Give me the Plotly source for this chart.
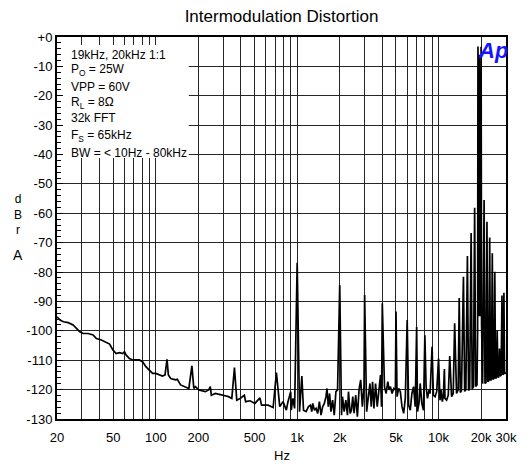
import math
import plotly.graph_objects as go

# ---------------- data ----------------
freq_hz = [
    20, 21.0, 22.2, 24.0, 26.0, 27.5, 29.0, 30.6, 33.2, 36.0, 38.0, 41.2, 44.6, 47.1,
    49.7, 52.4, 55.3, 58.4, 60.0, 61.6, 65.0, 68.6, 76.4, 80.6, 85.1, 89.8, 94.8, 100,
    105.5, 111.4, 116.2, 120, 122.7, 127.4, 138.1, 141.9, 149.7, 162.3, 171.3, 180,
    185.7, 190.8, 201.3, 224.2, 236.6, 243, 247, 263.6, 293.4, 326.9, 344.8, 360,
    373.8, 394.5, 423, 432, 463.7, 502.5, 545, 559.8, 623.4, 675.9, 713,
    753, 794, 838, 861, 884, 900, 908, 933, 959, 1000,
    1039, 1079, 1109, 1157, 1202, 1241, 1268, 1289, 1324, 1360, 1397, 1436, 1475,
    1515, 1556, 1599, 1625, 1660, 1696, 1733, 1780, 1829, 1879, 1930, 2000,
    2059, 2092, 2150, 2208, 2268, 2306, 2369, 2420, 2473, 2526, 2595, 2666, 2739,
    2814, 2891, 2970, 3000,
    3100, 3184, 3271, 3342, 3415, 3490, 3585, 3683, 3784, 3887, 3950, 4000,
    4146, 4258, 4376, 4470, 4568, 4692, 4820, 4952, 5000,
    5087, 5224, 5368, 5514, 5665, 5820, 6000,
    6141, 6308, 6480, 6658, 6840, 7000,
    7102, 7296, 7414, 7617, 7825, 8000,
    8166, 8346, 8570, 8712, 9000,
    9193, 9444, 9702, 10000,
    10240, 10406, 10634, 10806, 11000,
    11102, 11404, 11716, 12000,
    12362, 12700, 13000,
    13404, 13770, 14000,
    14250, 14532, 15000,
    15300, 15600, 16000,
    16300, 16600, 17000,
    17300, 17650, 18000,
    18300, 18700, 18900, 19000, 19200, 19400, 19600, 19800, 20000, 20150,
    20500, 21000, 21300, 21650, 22000, 22300, 22650, 23000,
    23300, 23650, 24000, 24300, 24650, 25000, 25300, 25650, 26000,
    26300, 26650, 27000, 27300, 27700, 28100, 28400, 28700, 29000,
    29300, 29650, 30000,
]

level_dbra = [
    -95.2, -96.3, -96.9, -97.2, -98.0, -99.2, -100.3, -100.9, -100.9, -101.4, -102.6, -103.1, -104.0, -104.5,
    -106.5, -107.7, -107.4, -107.7, -107.1, -108.2, -109.4, -109.9, -109.9, -110.5, -112.2, -113.3, -114.5, -114.5,
    -115.0, -115.4, -115.0, -109.7, -115.0, -116.2, -116.7, -116.5, -118.4, -119.0, -119.6, -111.9,
    -119.6, -119.0, -120.1, -120.7, -120.1, -119.0, -121.9, -121.3, -121.9, -122.4, -123.0, -112.5,
    -123.6, -123.0, -121.9, -124.1, -123.8, -124.7, -122.8, -125.3, -125.3, -126.1, -114.2,
    -125.8, -124.1, -127.0, -124.1, -122.4, -120.7, -127.0, -123.0, -126.4, -76.8,
    -127.5, -115.4, -127.0, -127.5, -125.8, -125.3, -127.5, -124.7, -127.0, -126.4, -128.1, -124.1, -128.7,
    -125.8, -124.7, -122.4, -119.6, -125.8, -121.3, -127.5, -123.6, -128.7, -120.7, -120.1, -84.4,
    -128.7, -122.4, -127.5, -123.6, -128.7, -120.7, -128.1, -127.0, -122.4, -128.0, -121.9, -129.2, -120.1,
    -116.7, -125.8, -119.0, -87.8,
    -127.5, -121.3, -117.9, -125.8, -117.3, -126.4, -117.9, -125.8, -119.6, -115.0, -125.8, -90.6,
    -119.0, -121.3, -117.3, -120.1, -119.0, -121.3, -119.6, -120.1, -93.4,
    -122.4, -119.6, -120.7, -125.8, -128.1, -123.0, -96.3,
    -125.3, -127.0, -121.3, -119.0, -125.8, -98.7,
    -127.5, -124.1, -117.9, -124.7, -127.0, -101.5,
    -119.0, -123.0, -120.1, -121.3, -105.4,
    -121.9, -122.4, -120.7, -109.4,
    -123.6, -120.1, -124.1, -122.4, -113.0,
    -123.0, -123.6, -121.9, -108.6,
    -122.4, -121.3, -97.4,
    -121.3, -120.1, -88.8,
    -121.0, -120.4, -81.6,
    -120.6, -120.0, -74.5,
    -120.3, -119.6, -66.7,
    -119.8, -119.0, -58.1,
    -118.9, -118.4, -100.0, -3.2, -95.0, -6.0, -95.0, -6.0, -3.3, -98.0,
    -118.0, -55.5, -117.9, -117.6, -62.9, -117.3, -117.0, -68.2,
    -116.9, -116.6, -73.6, -116.5, -116.2, -79.9, -116.2, -115.9, -100.0,
    -115.8, -115.6, -106.0, -115.4, -115.1, -88.0, -114.9, -114.7, -87.0,
    -114.6, -114.4, -114.3,
]

label_freqs = [20, 50, 100, 200, 500, 1000, 2000, 5000, 10000, 20000, 30000]
label_texts = ["20", "50", "100", "200", "500", "1k", "2k", "5k", "10k", "20k", "30k"]
minor_grid_freqs = [30, 40, 60, 70, 80, 90, 300, 400, 600, 700, 800, 900,
                    3000, 4000, 6000, 7000, 8000, 9000]
db_ticks = [0, -10, -20, -30, -40, -50, -60, -70, -80, -90, -100, -110, -120, -130]
db_labels = ["+0"] + [str(v) for v in db_ticks[1:]]

info_lines = [
    "19kHz, 20kHz 1:1",
    "P<sub>O</sub> = 25W",
    "VPP = 60V",
    "R<sub>L</sub> = 8\u03a9",
    "32k FFT",
    "F<sub>S</sub> = 65kHz",
    "BW = < 10Hz - 80kHz",
]

# ---------------- figure ----------------
W, H = 529, 464
L, R, T, B = 57, 19, 37, 45
PW, PH = W - L - R, H - T - B
FONT = "Liberation Sans, Arial, Helvetica, sans-serif"
GRID = "#262626"


def px_x(px):
    return (px - L) / PW


def px_y(py):
    return (H - B - py) / PH


fig = go.Figure()
fig.add_trace(go.Scatter(x=freq_hz, y=level_dbra, mode="lines",
                         line=dict(color="black", width=1.7), hoverinfo="skip",
                         showlegend=False))

fig.update_layout(
    width=W, height=H, autosize=False,
    margin=dict(l=L, r=R, t=T, b=B, pad=0),
    paper_bgcolor="white", plot_bgcolor="white",
    font=dict(family=FONT, color="black", size=13),
    title=dict(text="Intermodulation Distortion", x=0.5, xref="paper", xanchor="center",
               y=1 - 16.5 / H, yref="container", yanchor="middle",
               font=dict(size=17, family=FONT, color="black")),
    xaxis=dict(type="log", range=[math.log10(20), math.log10(30000)],
               tickmode="array", tickvals=label_freqs, ticktext=label_texts,
               showgrid=True, gridcolor=GRID, gridwidth=1,
               minor=dict(tickmode="array", tickvals=minor_grid_freqs, showgrid=True,
                          gridcolor=GRID, gridwidth=1, ticks=""),
               showline=True, linecolor="black", linewidth=2, mirror=True,
               ticks="", tickfont=dict(size=13), ticklabelstandoff=5, zeroline=False),
    yaxis=dict(range=[-130, 0], tickmode="array", tickvals=db_ticks, ticktext=db_labels,
               showgrid=True, gridcolor=GRID, gridwidth=1,
               showline=True, linecolor="black", linewidth=2, mirror=True,
               ticks="inside", ticklen=6, tickcolor="black", tickwidth=1,
               minor=dict(dtick=2, ticks="inside", ticklen=4, tickcolor="black",
                          tickwidth=1, showgrid=False),
               tickfont=dict(size=13), zeroline=False),
)

# white legend box covering the grid
fig.add_shape(type="rect", xref="paper", yref="paper",
              x0=px_x(63), x1=px_x(190), y0=px_y(158), y1=px_y(45),
              fillcolor="white", line=dict(width=0), layer="above")

ys = [54.7, 70.3, 86.7, 102.8, 118.3, 136.2, 153]
for txt, yy in zip(info_lines, ys):
    fig.add_annotation(text=txt, xref="paper", yref="paper", x=px_x(69), y=px_y(yy),
                       xanchor="left", yanchor="middle", showarrow=False,
                       font=dict(size=12, family=FONT, color="black"))

# Ap logo
fig.add_annotation(text="<b><i>Ap</i></b>", xref="paper", yref="paper",
                   x=px_x(497), y=px_y(50), xanchor="center", yanchor="middle",
                   showarrow=False, font=dict(size=22, family=FONT, color="#1414ff"))

# axis titles
fig.add_annotation(text="d<br>B<br>r", xref="paper", yref="paper", x=px_x(18), y=px_y(214),
                   xanchor="center", yanchor="middle", showarrow=False,
                   font=dict(size=12, family=FONT, color="black"))
fig.add_annotation(text="A", xref="paper", yref="paper", x=px_x(18), y=px_y(255),
                   xanchor="center", yanchor="middle", showarrow=False,
                   font=dict(size=14, family=FONT, color="black"))
fig.add_annotation(text="Hz", xref="paper", yref="paper", x=0.5, y=px_y(455),
                   xanchor="center", yanchor="middle", showarrow=False,
                   font=dict(size=13, family=FONT, color="black"))

fig.write_html("out.html")
